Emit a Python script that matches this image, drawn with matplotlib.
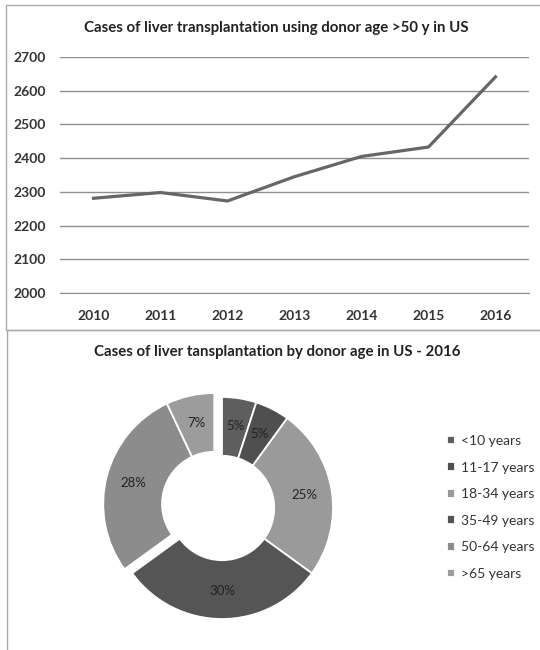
import numpy as np
import matplotlib.pyplot as plt
from matplotlib.patches import Rectangle

plt.rcParams['font.family'] = ['Lato', 'DejaVu Sans']

# line chart data
years = ['2010', '2011', '2012', '2013', '2014', '2015', '2016']
cases = [2281, 2298, 2273, 2345, 2405, 2433, 2641]

# donut data
age_groups = ['<10 years', '11-17 years', '18-34 years', '35-49 years', '50-64 years', '>65 years']
shares = [5, 5, 25, 30, 28, 7]
labels = ['5%', '5%', '25%', '30%', '28%', '7%']
colors = ['#5e5e5e', '#4f4f4f', '#9a9a9a', '#555555', '#8c8c8c', '#9c9c9c']

TXT = '#333333'
W, H = 540, 650

fig = plt.figure(figsize=(5.4, 6.5), dpi=100)

# panel frames
fig.add_artist(Rectangle((6 / W, 1 - 330 / H), 540 / W, 325 / H, transform=fig.transFigure,
                         fill=False, edgecolor='#aaaaaa', lw=1))
fig.add_artist(Rectangle((7 / W, -0.01), 0.99, 1 - 330 / H + 0.01, transform=fig.transFigure,
                         fill=False, edgecolor='#aaaaaa', lw=1))

# ---- line chart ----
ax = fig.add_axes([60 / W, 1 - 293 / H, 469 / W, 236 / H])
x = np.arange(len(years))
ax.plot(x, cases, color='#666666', lw=2.3)
ax.set_xlim(-0.5, len(years) - 0.5)
ax.set_ylim(2000, 2700)
ax.set_yticks(range(2000, 2701, 100))
ax.set_xticks(x)
ax.set_xticklabels(years)
ax.grid(axis='y', color='#8f8f8f', lw=1)
ax.set_axisbelow(True)
for s in ['top', 'right', 'left']:
    ax.spines[s].set_visible(False)
ax.spines['bottom'].set_color('#8f8f8f')
ax.tick_params(axis='y', length=0, labelsize=10, colors=TXT, pad=10)
ax.tick_params(axis='x', length=0, labelsize=10, colors=TXT, pad=12)
for t in ax.get_xticklabels() + ax.get_yticklabels():
    t.set_fontweight('bold')
fig.text(276 / W, 1 - 28 / H, 'Cases of liver transplantation using donor age >50 y in US',
         ha='center', va='center', fontsize=10.8, fontweight='bold', color='#222222')

# ---- donut chart ----
cx, cy, half = 222, 508, 125
ax2 = fig.add_axes([(cx - half) / W, 1 - (cy + half) / H, 2 * half / W, 2 * half / H])
wedges, _ = ax2.pie(shares, colors=colors, startangle=90, counterclock=False,
                    wedgeprops=dict(width=0.53, edgecolor='white', linewidth=1.3))
shift = (-0.07, 0.036)
for i, w in enumerate(wedges):
    off = shift if i >= 4 else (0, 0)
    w.set_center(off)
    ang = np.deg2rad((w.theta1 + w.theta2) / 2)
    r = 0.75
    ax2.text(off[0] + r * np.cos(ang), off[1] + r * np.sin(ang), labels[i],
             ha='center', va='center', fontsize=9.5, color='#222222')
lim = half / 111
ax2.set_xlim(-lim, lim)
ax2.set_ylim(-lim, lim)
ax2.set_aspect('equal')
ax2.axis('off')
fig.text(277 / W, 1 - 352 / H, 'Cases of liver tansplantation by donor age in US - 2016',
         ha='center', va='center', fontsize=10.8, fontweight='bold', color='#222222')

fig.legend(wedges, age_groups, loc='upper left', bbox_to_anchor=(440 / W, 1 - 428 / H),
           frameon=False, fontsize=10, labelcolor=TXT, handlelength=0.6, handleheight=0.6,
           handletextpad=0.4, labelspacing=1.05, borderpad=0)

fig.savefig('out.png', dpi=100)
